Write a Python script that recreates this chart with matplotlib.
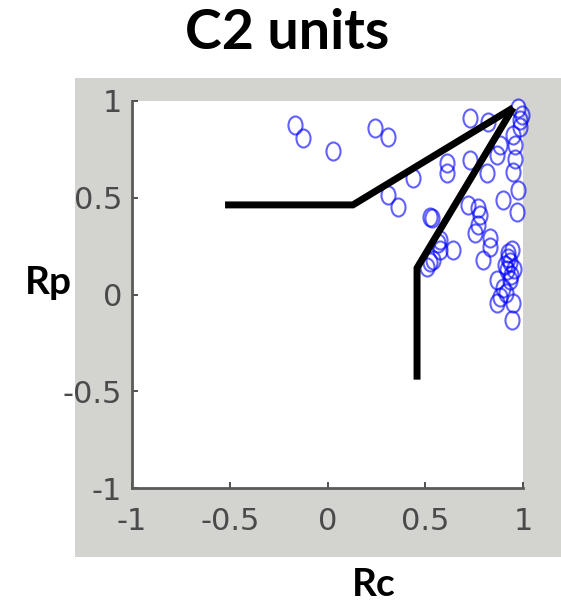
import matplotlib
matplotlib.use("Agg")
import matplotlib.pyplot as plt
import numpy as np
from matplotlib.path import Path
from matplotlib.patches import Rectangle

# scatter values
rc = [-0.166, -0.125, 0.028, 0.243, 0.309, 0.309, 0.361, 0.437, 0.524, 0.611,
      0.611, 0.729, 0.821, 0.729, 0.816, 0.867, 0.882, 0.949, 0.959, 0.974,
      0.995, 0.985, 0.949, 0.974, 0.898, 0.969, 0.719, 0.770, 0.780, 0.770,
      0.754, 0.831, 0.831, 0.795, 0.642, 0.575, 0.575, 0.540, 0.509, 0.535,
      0.923, 0.933, 0.918, 0.867, 0.933, 0.898, 0.882, 0.867, 0.949, 0.944,
      0.923, 0.908, 0.944, 0.565, 0.524, 0.985, 0.959, 0.939, 0.913, 0.954]
rp = [0.876, 0.809, 0.744, 0.860, 0.814, 0.514, 0.452, 0.602, 0.401, 0.680,
      0.628, 0.912, 0.892, 0.695, 0.628, 0.721, 0.773, 0.824, 0.773, 0.964,
      0.928, 0.866, 0.633, 0.540, 0.488, 0.426, 0.463, 0.447, 0.411, 0.359,
      0.318, 0.292, 0.245, 0.178, 0.230, 0.282, 0.230, 0.178, 0.142, 0.395,
      0.214, 0.168, 0.127, 0.075, 0.075, 0.034, -0.013, -0.044, -0.044, -0.132,
      0.189, 0.152, 0.230, 0.266, 0.168, 0.900, 0.700, 0.100, 0.010, 0.130]

# the two black guide lines
line1_x = [-0.524, 0.13, 0.95]
line1_y = [0.463, 0.463, 0.965]
line2_x = [0.458, 0.458, 0.95]
line2_y = [-0.44, 0.137, 0.965]

ticks = [-1, -0.5, 0, 0.5, 1]
tick_labels = ['-1', '-0.5', '0', '0.5', '1']

W, H = 561, 603
fig = plt.figure(figsize=(W / 100, H / 100), dpi=100)

# gray panel behind the axes (like a pasted matlab figure)
panel = Rectangle((75 / W, 1 - 557 / H), (W - 75) / W, (557 - 78) / H,
                  transform=fig.transFigure, facecolor='#d3d4d0',
                  edgecolor='none', zorder=-10)
fig.add_artist(panel)

ax = fig.add_axes([132 / W, 1 - 488 / H, (523 - 132) / W, (488 - 101) / H])
ax.set_facecolor('white')

# slightly tall circle, like in the original
circ = Path.unit_circle()
ell = Path(circ.vertices * np.array([0.78, 1.0]), circ.codes)

ax.plot(rc, rp, linestyle='none', marker=ell, markersize=13,
        markerfacecolor='none', markeredgecolor=(0, 0, 1, 0.62),
        markeredgewidth=1.5, clip_on=False)

for xs, ys in [(line1_x, line1_y), (line2_x, line2_y)]:
    ax.plot(xs, ys, color='black', linewidth=5, solid_joinstyle='miter',
            solid_capstyle='butt', zorder=3)

ax.set_xlim(-1, 1)
ax.set_ylim(-1, 1)
ax.set_xticks(ticks)
ax.set_yticks(ticks)
ax.set_xticklabels(tick_labels)
ax.set_yticklabels(tick_labels)
for s in ['top', 'right']:
    ax.spines[s].set_visible(False)
for s in ['left', 'bottom']:
    ax.spines[s].set_color('#5a5a5a')
    ax.spines[s].set_linewidth(2)
ax.tick_params(direction='in', length=4, width=1.2, color='#333333',
               labelcolor='#4a4a4a')
ax.tick_params(axis='x', pad=14)
ax.tick_params(axis='y', pad=7)
for lab in ax.get_xticklabels() + ax.get_yticklabels():
    lab.set_fontsize(22)

fig.text(287 / W, 1 - 33 / H, 'C2 units', family='Lato', weight='bold',
         fontsize=40, ha='center', va='center')
fig.text(48 / W, 1 - 282 / H, 'Rp', family='Lato', weight='bold',
         fontsize=28, ha='center', va='center')
fig.text(374 / W, 1 - 585 / H, 'Rc', family='Lato', weight='bold',
         fontsize=28, ha='center', va='center')

fig.savefig('out.png', dpi=100)
